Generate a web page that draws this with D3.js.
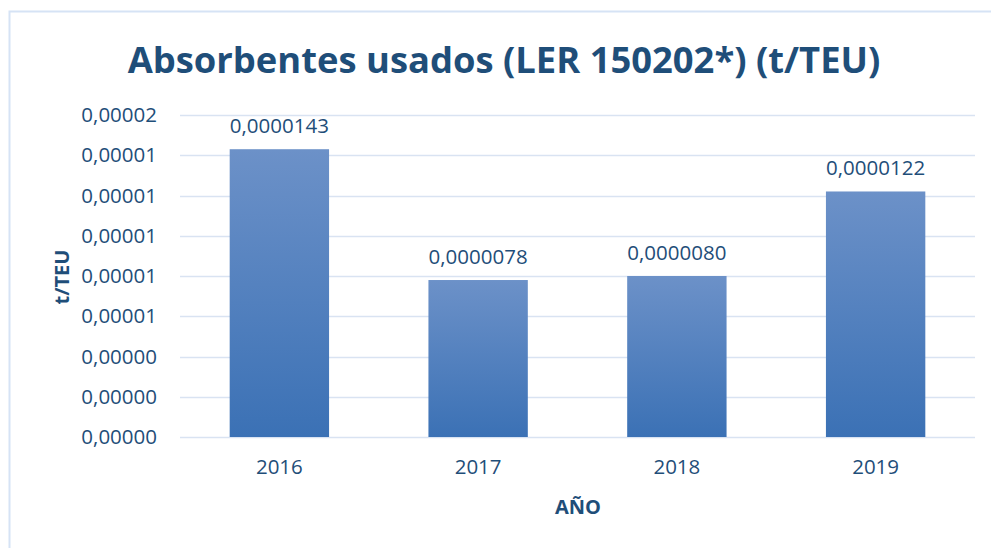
<!DOCTYPE html>
<html>
<head>
<meta charset="utf-8">
<script src="https://cdn.jsdelivr.net/npm/d3@7"></script>
<style>
  body { margin: 0; background: #fff; }
  text { font-family: "Open Sans", "Noto Sans", sans-serif; }
</style>
</head>
<body>
<div id="chart"></div>
<script>
const years = ["2016", "2017", "2018", "2019"];
const values = [0.0000143, 0.0000078, 0.0000080, 0.0000122];
const yTicks = [0, 0.000002, 0.000004, 0.000006, 0.000008, 0.00001, 0.000012, 0.000014, 0.000016];

function renderChart(){
    const W = 991, H = 548;
    const margin = { top: 115, right: 16, bottom: 111, left: 180 };
    const width = W - margin.left - margin.right;
    const height = H - margin.top - margin.bottom;
    const textColor = "#1F4E79";
    const fs = 20.5;

    const svg = d3.select("#chart").append("svg")
        .attr("width", W).attr("height", H);

    // chart frame
    svg.append("rect")
        .attr("x", 9.5).attr("y", 11.5)
        .attr("width", W + 20).attr("height", H + 20)
        .attr("fill", "#fff")
        .attr("stroke", "#D6E3F5").attr("stroke-width", 2);

    const defs = svg.append("defs");
    const grad = defs.append("linearGradient")
        .attr("id", "barGrad").attr("x1", 0).attr("y1", 0).attr("x2", 0).attr("y2", 1);
    grad.append("stop").attr("offset", "0%").attr("stop-color", "#6C91C8");
    grad.append("stop").attr("offset", "100%").attr("stop-color", "#3B71B5");

    const g = svg.append("g").attr("transform", `translate(${margin.left},${margin.top})`);

    const x = d3.scaleBand().domain(years).range([0, width]).paddingInner(0.5).paddingOuter(0.25);
    const y = d3.scaleLinear().domain([0, 0.000016]).range([height, 0]);

    const fmtTick = v => v.toFixed(5).replace(".", ",");
    const fmtVal = v => v.toFixed(7).replace(".", ",");

    // gridlines
    g.selectAll(".grid").data(yTicks).enter().append("line")
        .attr("x1", 0).attr("x2", width)
        .attr("y1", d => Math.round(y(d)) + 0.5).attr("y2", d => Math.round(y(d)) + 0.5)
        .attr("stroke", "#D9E3F2").attr("stroke-width", 1.5);

    // y tick labels
    g.selectAll(".ytick").data(yTicks).enter().append("text")
        .attr("x", -23).attr("y", d => y(d))
        .attr("dy", "0.35em")
        .attr("text-anchor", "end")
        .attr("font-size", fs)
        .attr("fill", textColor)
        .text(fmtTick);

    // bars
    g.selectAll(".bar").data(values).enter().append("rect")
        .attr("x", (d, i) => x(years[i]))
        .attr("y", d => y(d))
        .attr("width", x.bandwidth())
        .attr("height", d => height - y(d))
        .attr("fill", "url(#barGrad)");

    // value labels
    g.selectAll(".val").data(values).enter().append("text")
        .attr("x", (d, i) => x(years[i]) + x.bandwidth() / 2)
        .attr("y", d => y(d) - 16)
        .attr("text-anchor", "middle")
        .attr("font-size", fs)
        .attr("fill", textColor)
        .text(fmtVal);

    // x tick labels
    g.selectAll(".xtick").data(years).enter().append("text")
        .attr("x", d => x(d) + x.bandwidth() / 2)
        .attr("y", height + 37)
        .attr("text-anchor", "middle")
        .attr("font-size", fs)
        .attr("fill", textColor)
        .text(d => d);

    // axis titles
    svg.append("text")
        .attr("x", 578).attr("y", 514)
        .attr("text-anchor", "middle")
        .attr("font-size", 20).attr("font-weight", "bold")
        .attr("fill", textColor)
        .text("AÑO");

    svg.append("text")
        .attr("transform", "translate(69,277) rotate(-90)")
        .attr("text-anchor", "middle")
        .attr("font-size", 20).attr("font-weight", "bold")
        .attr("fill", textColor)
        .text("t/TEU");

    // title
    const title = svg.append("text")
        .attr("x", 504).attr("y", 73)
        .attr("text-anchor", "middle")
        .attr("font-size", 36).attr("font-weight", "bold")
        .attr("fill", textColor)
        .text("Absorbentes usados (LER 150202*) (t/TEU)");
    const tw = title.node().getComputedTextLength();
    title.attr("font-size", 36 * 753 / tw);
}
renderChart();
</script>
</body>
</html>
